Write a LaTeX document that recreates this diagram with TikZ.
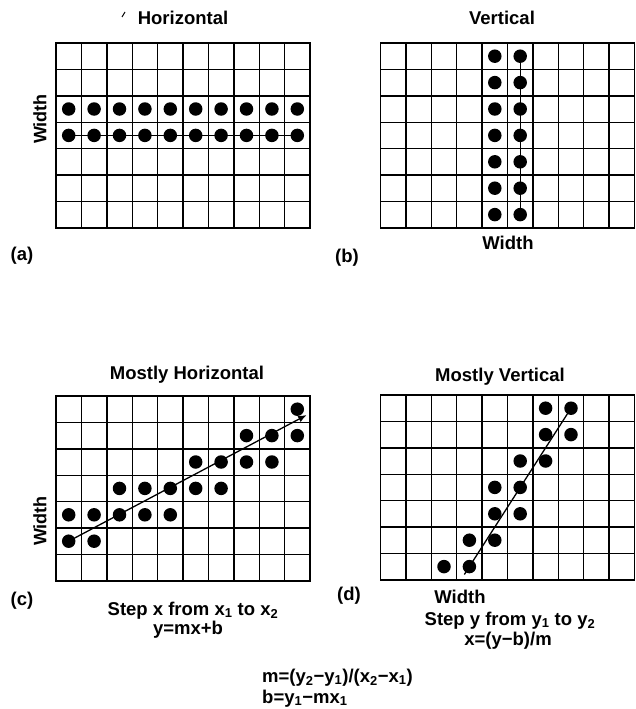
\documentclass[tikz,border=0pt]{standalone}
\usepackage{fontspec}
\setmainfont{Liberation Sans}
\usetikzlibrary{arrows.meta}

\begin{document}
\begin{tikzpicture}[
  x=1pt, y=-1pt,
  cell/.style={line width=1.4pt, line cap=rect},
  pixel/.style={circle, fill, inner sep=0pt, minimum size=13.5pt},
  heading/.style={font=\fontsize{18.5}{22}\selectfont\bfseries, anchor=base, inner sep=0pt},
  sidetext/.style={font=\fontsize{18}{22}\selectfont\bfseries, rotate=90, inner sep=0pt},
  track/.style={line width=1.3pt},
  arrow/.style={-{Latex[length=3mm, width=2.4mm]}, line width=1.3pt}
]
\def\cw{25.4}
\def\ch{26.4}
\useasboundingbox (0,0) rectangle (636,709);

% (a) horizontal
\begin{scope}[shift={(56,43)}]
  \foreach \i in {0,...,10} \draw[cell] (\i*\cw,0) -- (\i*\cw,7*\ch);
  \foreach \j in {0,...,7} \draw[cell] (0,\j*\ch) -- (10*\cw,\j*\ch);
  \foreach \r in {2,3}
    \foreach \c in {0,...,9}
      \node[pixel] (a-\r-\c) at ({(\c+0.5)*\cw},{(\r+0.5)*\ch}) {};
  \draw[track] (a-3-0.west) -- (a-3-9.east);
\end{scope}
\node[heading] (a-title) at (183,25) {Horizontal};
\draw[line width=1pt] (122,17) -- (125,12);
\node[sidetext] (a-width) at (40,119) {Width};
\node[heading] (a-tag) at (22,260) {(a)};

% (b) vertical
\begin{scope}[shift={(380.5,43)}]
  \foreach \i in {0,...,10} \draw[cell] (\i*\cw,0) -- (\i*\cw,7*\ch);
  \foreach \j in {0,...,7} \draw[cell] (0,\j*\ch) -- (10*\cw,\j*\ch);
  \foreach \r in {0,...,6}
    \foreach \c in {4,5}
      \node[pixel] (b-\r-\c) at ({(\c+0.5)*\cw},{(\r+0.5)*\ch}) {};
  \draw[track] (b-0-5.center) -- (b-6-5.center);
\end{scope}
\node[heading] (b-title) at (502,25) {Vertical};
\node[heading] (b-width) at (508,249) {Width};
\node[heading] (b-tag) at (347,262) {(b)};

% (c) mostly horizontal
\begin{scope}[shift={(56,396)}]
  \foreach \i in {0,...,10} \draw[cell] (\i*\cw,0) -- (\i*\cw,7*\ch);
  \foreach \j in {0,...,7} \draw[cell] (0,\j*\ch) -- (10*\cw,\j*\ch);
  \foreach \r/\c in {0/9, 1/7, 1/8, 1/9, 2/5, 2/6, 2/7, 2/8,
                     3/2, 3/3, 3/4, 3/5, 3/6, 4/0, 4/1, 4/2, 4/3, 4/4, 5/0, 5/1}
    \node[pixel] (c-\r-\c) at ({(\c+0.5)*\cw},{(\r+0.5)*\ch}) {};
  \coordinate (c-end) at ({9.87*\cw},{0.72*\ch});
  \draw[arrow] (c-5-0.center) -- (c-end);
\end{scope}
\node[heading] (c-title) at (187,379) {Mostly Horizontal};
\node[sidetext] (c-width) at (40,521) {Width};
\node[heading] (c-tag) at (22,605) {(c)};
\node[heading] (c-step) at (193,615) {Step x from x\textsubscript{1} to x\textsubscript{2}};
\node[heading] (c-rule) at (188,634) {y=mx+b};

% (d) mostly vertical
\begin{scope}[shift={(380.5,395)}]
  \foreach \i in {0,...,10} \draw[cell] (\i*\cw,0) -- (\i*\cw,7*\ch);
  \foreach \j in {0,...,7} \draw[cell] (0,\j*\ch) -- (10*\cw,\j*\ch);
  \foreach \r/\c in {0/6, 0/7, 1/6, 1/7, 2/5, 2/6, 3/4, 3/5,
                     4/4, 4/5, 5/3, 5/4, 6/2, 6/3}
    \node[pixel] (d-\r-\c) at ({(\c+0.5)*\cw},{(\r+0.5)*\ch}) {};
  \coordinate (d-start) at ({3.3*\cw},{6.8*\ch});
  \draw[track] (d-start) -- (d-0-7.center);
\end{scope}
\node[heading] (d-title) at (500,381) {Mostly Vertical};
\node[heading] (d-tag) at (349,600) {(d)};
\node[heading] (d-width) at (460,603) {Width};
\node[heading] (d-step) at (510,625) {Step y from y\textsubscript{1} to y\textsubscript{2}};
\node[heading] (d-rule) at (508,645) {x=(y−b)/m};

% slope and intercept
\node[heading, anchor=base west] (slope) at (262,682)
  {m=(y\textsubscript{2}−y\textsubscript{1})/(x\textsubscript{2}−x\textsubscript{1})};
\node[heading, anchor=base west] (icept) at (262,703)
  {b=y\textsubscript{1}−mx\textsubscript{1}};
\end{tikzpicture}
\end{document}
